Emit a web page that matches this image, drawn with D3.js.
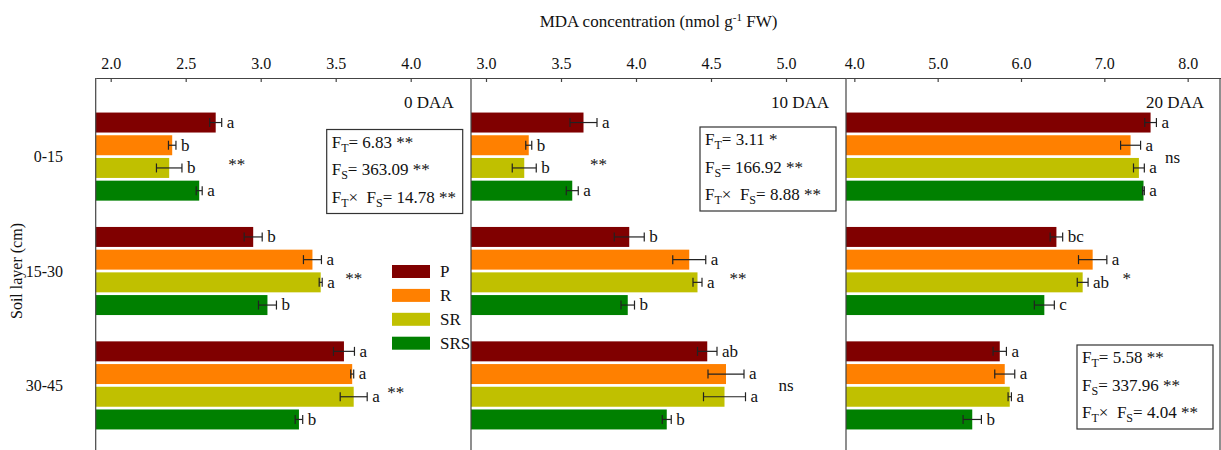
<!DOCTYPE html>
<html>
<head>
<meta charset="utf-8">
<script src="https://cdn.jsdelivr.net/npm/d3@7"></script>
<style>
  body { margin: 0; background: #fff; }
  text { font-family: "Liberation Serif", "Times New Roman", serif; fill: #111; }
</style>
</head>
<body>
<div id="chart"></div>
<script>
// Data
const layers = ["0-15", "15-30", "30-45"];
const treatments = ["P", "R", "SR", "SRS"];
const stages = ["0 DAA", "10 DAA", "20 DAA"];
const xDomains = [[1.9, 4.4], [2.9, 5.4], [3.9, 8.4]];
const xTicks = [[2.0, 2.5, 3.0, 3.5, 4.0], [3.0, 3.5, 4.0, 4.5, 5.0], [4.0, 5.0, 6.0, 7.0, 8.0]];

// means [layer][treatment]
const mean0 = [[2.70, 2.41, 2.39, 2.59], [2.95, 3.345, 3.40, 3.045], [3.555, 3.61, 3.62, 3.255]];
const se0 = [[0.04, 0.025, 0.085, 0.02], [0.06, 0.06, 0.01, 0.06], [0.07, 0.01, 0.09, 0.025]];
const letters0 = [["a", "b", "b", "a"], ["b", "a", "a", "b"], ["a", "a", "a", "b"]];

const mean10 = [[3.65, 3.285, 3.255, 3.575], [3.955, 4.355, 4.41, 3.945], [4.475, 4.60, 4.59, 4.205]];
const se10 = [[0.09, 0.02, 0.08, 0.04], [0.10, 0.11, 0.03, 0.045], [0.065, 0.12, 0.14, 0.03]];
const letters10 = [["a", "b", "b", "a"], ["b", "a", "a", "b"], ["ab", "a", "a", "b"]];

const mean20 = [[7.555, 7.315, 7.415, 7.47], [6.425, 6.86, 6.74, 6.28], [5.745, 5.805, 5.865, 5.415]];
const se20 = [[0.07, 0.12, 0.065, 0.01], [0.075, 0.17, 0.065, 0.12], [0.08, 0.12, 0.02, 0.11]];
const letters20 = [["a", "a", "a", "a"], ["bc", "a", "ab", "c"], ["a", "a", "a", "b"]];

// significance between treatments per layer, and where it sits (MDA units)
const sig0 = ["**", "**", "**"], sigAt0 = [2.84, 3.62, 3.90];
const sig10 = ["**", "**", "ns"], sigAt10 = [3.75, 4.68, 5.0];
const sig20 = ["ns", "*", ""], sigAt20 = [7.82, 7.27, 7.5];

// two-way ANOVA F values: [FT, FS, FT x FS]
const anova0 = ["6.83 **", "363.09 **", "14.78 **"];
const anova10 = ["3.11 *", "166.92 **", "8.88 **"];
const anova20 = ["5.58 **", "337.96 **", "4.04 **"];

const colors = ["#800000", "#ff8000", "#c0c000", "#008000"];

const panels = [
  { mean: mean0, se: se0, letters: letters0, sig: sig0, sigAt: sigAt0, anova: anova0, box: [231, 129.5] },
  { mean: mean10, se: se10, letters: letters10, sig: sig10, sigAt: sigAt10, anova: anova10, box: [229, 127] },
  { mean: mean20, se: se20, letters: letters20, sig: sig20, sigAt: sigAt20, anova: anova20, box: [231, 345] }
];

const width = 1221, height = 450;
const plotTop = 78, plotBottom = 464;
const panelLeft = [95.7, 471, 846], panelW = 375;
const frameColor = "#444";
const fs = "17px";

const svg = d3.select("#chart").append("svg")
  .attr("width", width).attr("height", height)
  .style("display", "block");

svg.append("rect").attr("width", width).attr("height", height).attr("fill", "#fff");

const yScale = d3.scaleBand().domain(layers).range([plotTop, plotBottom])
  .paddingInner(0.23).paddingOuter(0.302);
const yInner = d3.scaleBand().domain(treatments).range([0, yScale.bandwidth()])
  .paddingInner(0.12);

// Title
svg.append("text")
  .attr("x", 658.5).attr("y", 27)
  .attr("text-anchor", "middle")
  .style("font-size", "17px")
  .call(t => {
    t.append("tspan").text("MDA concentration (nmol g");
    t.append("tspan").attr("dy", -6).style("font-size", "11px").text("-1");
    t.append("tspan").attr("dy", 6).text(" FW)");
  });

// Y axis label
svg.append("text")
  .attr("transform", "translate(22, 271) rotate(-90)")
  .attr("text-anchor", "middle")
  .style("font-size", "16px")
  .text("Soil layer (cm)");

// Row labels
svg.selectAll(".row-label")
  .data(layers)
  .join("text")
  .attr("class", "row-label")
  .attr("x", 63)
  .attr("y", d => yScale(d) + yScale.bandwidth() / 2)
  .attr("dy", "0.35em")
  .attr("text-anchor", "end")
  .style("font-size", "16px")
  .text(d => d);

panels.forEach((p, pi) => {
  const x0 = panelLeft[pi];
  const xScale = d3.scaleLinear().domain(xDomains[pi]).range([x0, x0 + panelW]);
  const g = svg.append("g");

  // Bars
  layers.forEach((layer, li) => {
    const gy = yScale(layer);
    const rows = treatments.map((t, ti) => ({
      t, ti, m: p.mean[li][ti], e: p.se[li][ti], lab: p.letters[li][ti]
    }));

    g.selectAll(null).data(rows).join("rect")
      .attr("x", x0)
      .attr("y", d => gy + yInner(d.t))
      .attr("width", d => xScale(d.m) - x0)
      .attr("height", yInner.bandwidth())
      .attr("fill", d => colors[d.ti]);

    // Error bars
    const eb = g.selectAll(null).data(rows).join("g")
      .attr("transform", d => `translate(0, ${gy + yInner(d.t) + yInner.bandwidth() / 2})`)
      .attr("stroke", "#222").attr("stroke-width", 1.2);
    eb.append("line")
      .attr("x1", d => xScale(d.m - d.e)).attr("x2", d => xScale(d.m + d.e));
    eb.append("line")
      .attr("x1", d => xScale(d.m - d.e)).attr("x2", d => xScale(d.m - d.e))
      .attr("y1", -4.5).attr("y2", 4.5);
    eb.append("line")
      .attr("x1", d => xScale(d.m + d.e)).attr("x2", d => xScale(d.m + d.e))
      .attr("y1", -4.5).attr("y2", 4.5);

    // Letters
    g.selectAll(null).data(rows).join("text")
      .attr("x", d => xScale(d.m + d.e) + 5)
      .attr("y", d => gy + yInner(d.t) + yInner.bandwidth() / 2)
      .attr("dy", "0.32em")
      .style("font-size", fs)
      .text(d => d.lab);

    // Significance between treatments
    if (p.sig[li]) {
      g.append("text")
        .attr("x", xScale(p.sigAt[li]))
        .attr("y", gy + yScale.bandwidth() / 2 + (p.sig[li] === "ns" ? 6 : 13))
        .attr("text-anchor", "middle")
        .style("font-size", fs)
        .text(p.sig[li]);
    }
  });

  // Top axis
  const axis = d3.axisTop(xScale)
    .tickValues(xTicks[pi])
    .tickFormat(d3.format(".1f"))
    .tickSizeInner(-4).tickSizeOuter(0).tickPadding(9);
  const ag = svg.append("g").attr("transform", `translate(0, ${plotTop})`).call(axis);
  ag.select(".domain").attr("stroke", frameColor).attr("stroke-width", 1.2);
  ag.selectAll(".tick line").attr("stroke", frameColor).attr("stroke-width", 1.2);
  ag.selectAll(".tick text")
    .style("font-size", "16px").style("font-family", "'Liberation Serif', serif").attr("fill", "#111");

  // Panel left border
  svg.append("line")
    .attr("x1", x0).attr("x2", x0).attr("y1", plotTop).attr("y2", height + 10)
    .attr("stroke", frameColor).attr("stroke-width", 1.2);

  // Stage label
  svg.append("text")
    .attr("x", x0 + panelW - 17).attr("y", 108)
    .attr("text-anchor", "end")
    .style("font-size", fs)
    .text(stages[pi]);

  // ANOVA box
  const bx = x0 + p.box[0], by = p.box[1];
  svg.append("rect")
    .attr("x", bx).attr("y", by).attr("width", 136).attr("height", 84)
    .attr("fill", "none").attr("stroke", "#333").attr("stroke-width", 1.2);
  const subs = [["T"], ["S"], ["T", "S"]];
  p.anova.forEach((val, k) => {
    const t = svg.append("text")
      .attr("x", bx + 5).attr("y", by + 18 + k * 27.5)
      .style("font-size", fs);
    t.append("tspan").text("F");
    t.append("tspan").attr("dy", 4).style("font-size", "12px").text(subs[k][0]);
    if (k === 2) {
      t.append("tspan").attr("dy", -4).text("\u00d7\u00a0 F");
      t.append("tspan").attr("dy", 4).style("font-size", "12px").text(subs[k][1]);
    }
    t.append("tspan").attr("dy", -4).text("= " + val);
  });
});

// right edge of last panel
svg.append("line")
  .attr("x1", panelLeft[2] + panelW - 1).attr("x2", panelLeft[2] + panelW - 1)
  .attr("y1", plotTop).attr("y2", height + 10)
  .attr("stroke", frameColor).attr("stroke-width", 1.2);

// Legend inside the first panel
const legend = svg.append("g").attr("transform", "translate(392, 265)");
treatments.forEach((t, i) => {
  const lg = legend.append("g").attr("transform", `translate(0, ${i * 23.9})`);
  lg.append("rect").attr("width", 38).attr("height", 13).attr("fill", colors[i]);
  lg.append("text").attr("x", 48).attr("y", 6.5).attr("dy", "0.35em")
    .style("font-size", fs).text(t);
});
</script>
</body>
</html>
